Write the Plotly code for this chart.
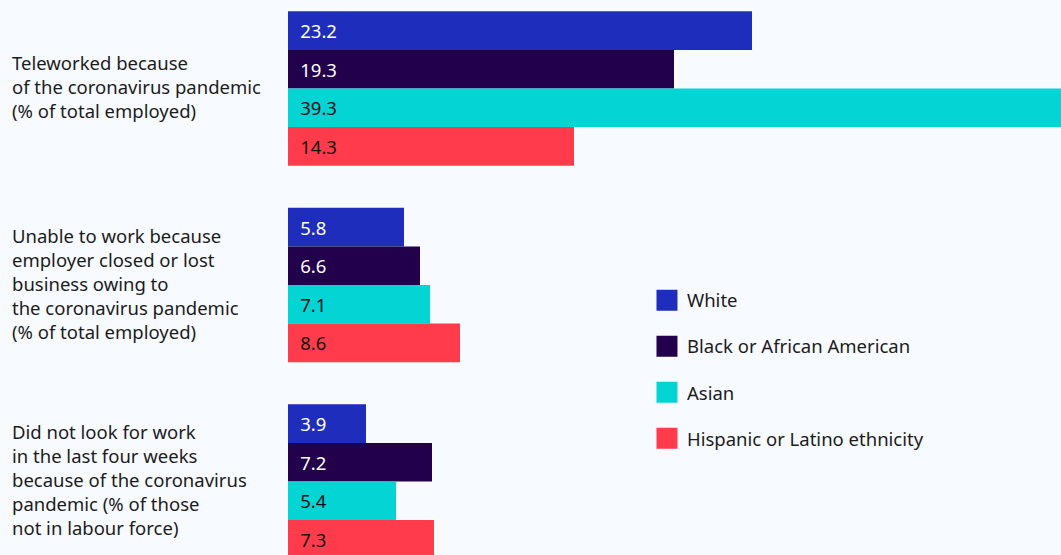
import plotly.graph_objects as go

categories = [
    "Teleworked because<br>of the coronavirus pandemic<br>(% of total employed)",
    "Unable to work because<br>employer closed or lost<br>business owing to<br>the coronavirus pandemic<br>(% of total employed)",
    "Did not look for work<br>in the last four weeks<br>because of the coronavirus<br>pandemic (% of those<br>not in labour force)",
]
series_names = ["White", "Black or African American", "Asian", "Hispanic or Latino ethnicity"]
white = [23.2, 5.8, 3.9]
black = [19.3, 6.6, 7.2]
asian = [39.3, 7.1, 5.4]
hispanic = [14.3, 8.6, 7.3]

series_values = [white, black, asian, hispanic]
colors = ["#1f2dbd", "#22004c", "#05d4d4", "#ff3b4c"]
text_colors = ["#ffffff", "#ffffff", "#111111", "#111111"]

FONT = "Noto Sans"
FS = 18.5
DARK = "#1c1c1c"
BG = "#f7fafe"

fig = go.Figure()
cat_ids = ["c0", "c1", "c2"]
for name, vals, col, tcol in zip(series_names, series_values, colors, text_colors):
    fig.add_trace(go.Bar(
        name=name, y=cat_ids, x=vals, orientation="h",
        marker=dict(color=col, line=dict(width=0)),
        texttemplate="\u2002%{x:.1f}", textposition="inside", insidetextanchor="start",
        insidetextfont=dict(family=FONT, size=FS, color=tcol),
        showlegend=False, hoverinfo="skip",
    ))

for i, (name, col) in enumerate(zip(series_names, colors)):
    fig.add_trace(go.Scatter(
        name=name, x=[None], y=[None], mode="markers",
        marker=dict(symbol="square", size=16, color=col, line=dict(width=5, color=col)),
        legendgroup=f"g{i}", showlegend=True,
    ))

for cid, lab in zip(cat_ids, categories):
    fig.add_annotation(
        x=-0.3597, xref="paper", y=cid, yref="y", text=lab, showarrow=False,
        xanchor="left", yanchor="middle", align="left", yshift=2,
        font=dict(family=FONT, size=FS, color=DARK),
    )

fig.update_layout(
    width=1061, height=555,
    margin=dict(l=288, r=0, t=0, b=0),
    paper_bgcolor=BG, plot_bgcolor=BG,
    barmode="group", bargap=0.214, bargroupgap=0,
    font=dict(family=FONT, size=FS, color=DARK),
    xaxis=dict(range=[0, 38.65], visible=False, fixedrange=True),
    yaxis=dict(range=[2.374, -0.4504], visible=False, type="category",
               categoryorder="array", categoryarray=cat_ids, fixedrange=True),
    legend=dict(x=0.4644, xanchor="left", y=0.4925, yanchor="top",
                bgcolor="rgba(0,0,0,0)", tracegroupgap=19,
                font=dict(family=FONT, size=FS, color=DARK)),
    showlegend=True,
)

fig.write_html(
    "out.html",
    config={"displayModeBar": False},
    post_script="document.body.style.margin='0';document.body.style.overflow='hidden';",
)
